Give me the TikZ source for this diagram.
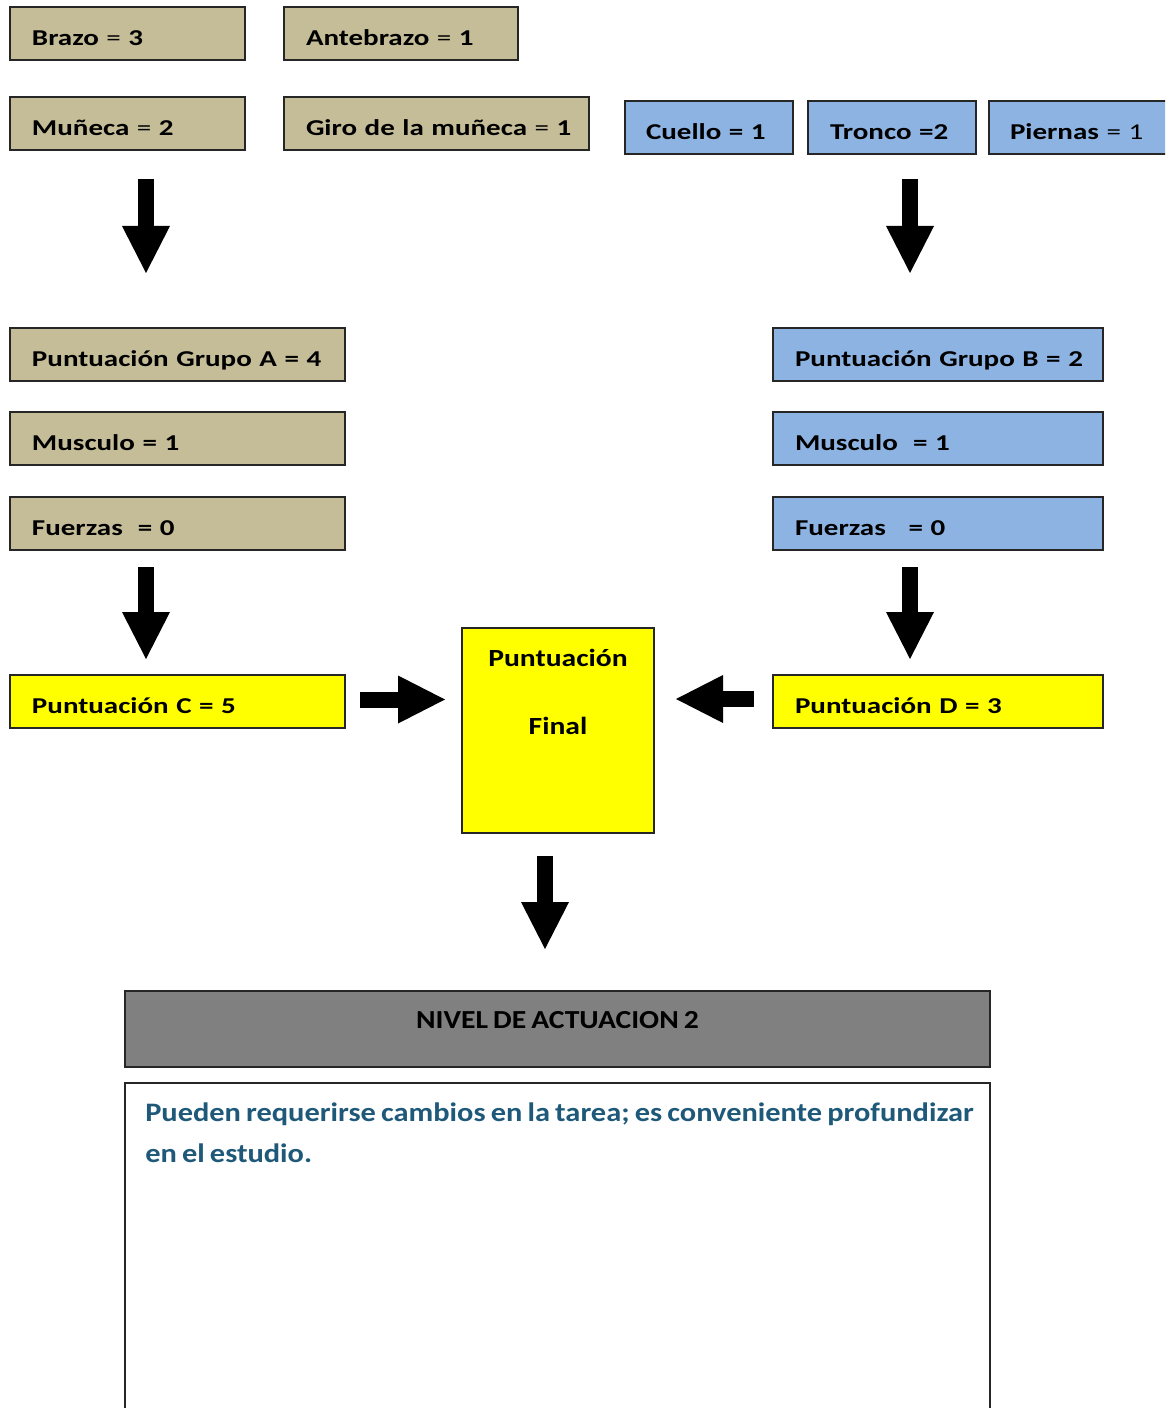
\documentclass[tikz,border=0pt]{standalone}
\usepackage{fontspec}
\setmainfont{Carlito}
\newfontfamily\boxfont{Carlito}[FakeStretch=1.28]
\newfontfamily\finalfont{Carlito}[FakeStretch=1.2]
\newfontfamily\botfont{Carlito}[FakeStretch=1.14, WordSpace=0.75]
\usetikzlibrary{arrows.meta,calc}
\definecolor{tanfill}{HTML}{C4BD97}
\definecolor{bluefill}{HTML}{8DB3E2}
\definecolor{notecol}{RGB}{31,89,122}
\definecolor{grayfill}{HTML}{808080}
\definecolor{yelfill}{HTML}{FFFF00}
% tighter word spacing for the box labels
\newcommand\tightsp{\fontdimen2\font=2.4pt\relax}
\newcommand\reg[1]{{\mdseries\tightsp#1}}
\begin{document}
\begin{tikzpicture}[x=0.75pt,y=-0.75pt,
  box/.style={draw=black!85, line width=1.5pt, rectangle, minimum height=39.75pt,
    inner xsep=0pt, inner ysep=0pt, align=left, text height=18.4pt, text depth=0pt,
    text width=#1, execute at begin node={\hspace*{16.5pt}},
    font=\boxfont\fontsize{17}{20}\selectfont\bfseries\tightsp},
  tanbox/.style={box=#1, fill=tanfill},
  bluebox/.style={box=#1, fill=bluefill},
  yelbox/.style={box=#1, fill=yelfill},
  blk/.style={line width=12pt, -{Triangle[length=35.25pt, width=36pt, line width=0pt]}}
]
\useasboundingbox (0,0) rectangle (1165,1408);
\begin{scope}
\clip (0,0) rectangle (1165,1408);

% group A inputs
\node[tanbox=176.25pt] (brazo) at (127.5,33.5) {Brazo \reg{=} 3};
\node[tanbox=175.5pt] (antebrazo) at (401,33.5) {Antebrazo \reg{=} 1};
\node[tanbox=176.25pt] (muneca) at (127.5,123.5) {Muñeca \reg{=} 2};
\node[tanbox=228.75pt] (giro) at (436.5,123.5) {Giro de la muñeca \reg{=} 1};

% group B inputs
\node[bluebox=126pt] (cuello) at (709,127.5) {\hspace*{-0.75pt}Cuello = 1};
\node[bluebox=126pt] (tronco) at (892,127.5) {Tronco =2};
\node[bluebox=135.75pt] (piernas) at (1079.5,127.5) {\hspace*{-0.75pt}Piernas \reg{=} \reg{1}};

% group scores
\node[tanbox=251.25pt] (grupoA) at (177.5,354.5) {Puntuación Grupo A = 4};
\node[tanbox=251.25pt] (muscA) at (177.5,438.5) {Musculo = 1};
\node[tanbox=251.25pt] (fuerA) at (177.5,523.5) {Fuerzas\ \ = 0};
\node[bluebox=247.5pt] (grupoB) at (938,354.5) {Puntuación Grupo B = 2};
\node[bluebox=247.5pt] (muscB) at (938,438.5) {Musculo\ \ = 1};
\node[bluebox=247.5pt] (fuerB) at (938,523.5) {Fuerzas\ \ \ = 0};

% C and D
\node[yelbox=251.25pt] (puntC) at (177.5,701.5) {Puntuación C = 5};
\node[yelbox=247.5pt] (puntD) at (938,701.5) {Puntuación D = 3};

% final score
\node[draw=black!85, line width=1.5pt, fill=yelfill, minimum width=144pt, minimum height=153.75pt,
  label={[anchor=base, align=center, inner sep=0pt, yshift=-80.25pt,
    font=\finalfont\fontsize{18.5}{51}\selectfont\bfseries]north:Puntuación\\Final}]
  (final) at (558,730.5) {};

% action level
\node[draw=black!85, line width=1.5pt, fill=grayfill, minimum width=648.75pt, minimum height=57pt,
  label={[anchor=base, inner sep=0pt, yshift=-29pt,
    font=\botfont\fontsize{19.5}{22}\selectfont\bfseries]north:NIVEL DE ACTUACION 2}]
  (nivel) at (557.5,1029) {};
\node[draw=black!85, line width=1.5pt, fill=white, minimum width=648.75pt, minimum height=252.75pt,
  label={[anchor=base west, align=left, inner sep=0pt, xshift=15.75pt, yshift=-60pt, text=notecol,
    font=\botfont\fontsize{20}{30.75}\selectfont\bfseries]north west:Pueden requerirse cambios en la tarea; es conveniente profundizar\\en el estudio.}]
  (nota) at (557.5,1251.5) {};
\end{scope}

% block arrows
\coordinate (a1s) at ($(muneca.south west)+(137,28)$);
\coordinate (a1e) at ($(grupoA.north west)+(137,-54)$);
\coordinate (a2s) at ($(tronco.south)+(18,24)$);
\coordinate (a2e) at ($(grupoB.north)+(-28,-54)$);
\coordinate (a3s) at ($(fuerA.south west)+(137,16)$);
\coordinate (a3e) at ($(puntC.north west)+(137,-15)$);
\coordinate (a4s) at ($(fuerB.south)+(-28,16)$);
\coordinate (a4e) at ($(puntD.north)+(-28,-15)$);
\coordinate (a5s) at ($(puntC.east)+(14,-2)$);
\coordinate (a5e) at ($(final.west)+(-16,-31)$);
\coordinate (a6s) at ($(puntD.west)+(-18.5,-2.5)$);
\coordinate (a6e) at ($(final.east)+(21,-31.5)$);
\coordinate (a7s) at ($(final.south)+(-13,22)$);
\coordinate (a7e) at ($(nivel.north)+(-12.5,-41)$);
\draw[blk] (a1s) -- (a1e);
\draw[blk] (a2s) -- (a2e);
\draw[blk] (a3s) -- (a3e);
\draw[blk] (a4s) -- (a4e);
\draw[blk] (a5s) -- (a5e);
\draw[blk] (a6s) -- (a6e);
\draw[blk] (a7s) -- (a7e);
\end{tikzpicture}
\end{document}
